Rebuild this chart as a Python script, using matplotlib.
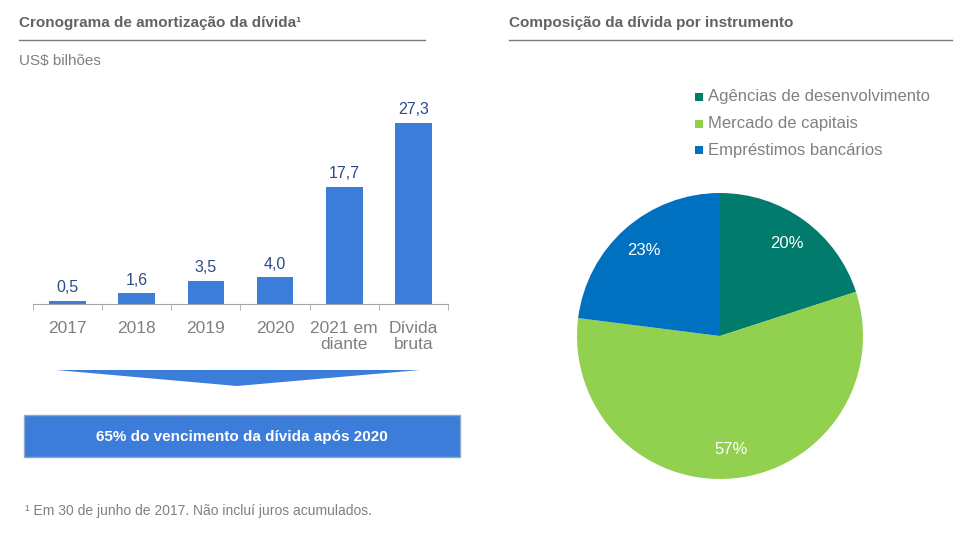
import matplotlib.pyplot as plt
from matplotlib.patches import Polygon, Rectangle

plt.rcParams['font.family'] = ['Liberation Sans', 'DejaVu Sans']

# data
categories = ['2017', '2018', '2019', '2020', '2021 em\ndiante', 'Dívida\nbruta']
values = [0.5, 1.6, 3.5, 4.0, 17.7, 27.3]
value_labels = ['0,5', '1,6', '3,5', '4,0', '17,7', '27,3']

pie_labels = ['Agências de desenvolvimento', 'Mercado de capitais', 'Empréstimos bancários']
pie_values = [20, 57, 23]
pie_colors = ['#007B6C', '#92D050', '#0070C0']

W, H = 973, 536
fig = plt.figure(figsize=(W / 100, H / 100), dpi=100)

# overlay in pixel coords for titles, lines, arrow, box
bg = fig.add_axes([0, 0, 1, 1])
bg.set_xlim(0, W)
bg.set_ylim(H, 0)
bg.axis('off')

title_col = '#626262'
grey = '#808080'

bg.text(19, 23, 'Cronograma de amortização da dívida¹', fontsize=11, fontweight='bold',
        color=title_col, va='center', ha='left')
bg.plot([19, 425], [40, 40], color='#7a7a7a', lw=1)
bg.text(509, 23, 'Composição da dívida por instrumento', fontsize=11, fontweight='bold',
        color=title_col, va='center', ha='left')
bg.plot([509, 952], [40, 40], color='#7a7a7a', lw=1)
bg.text(19, 61, 'US$ bilhões', fontsize=11, color=grey, va='center', ha='left')

# chevron arrow
bg.add_patch(Polygon([[56, 370], [420, 370], [237, 386]], closed=True,
                     facecolor='#3C7DD9', edgecolor='none'))
# highlight box
bg.add_patch(Rectangle((24, 415), 436, 42, facecolor='#3C7DD9', edgecolor='#8EA9C8', lw=1))
bg.text(242, 437, '65% do vencimento da dívida após 2020', fontsize=11, fontweight='bold',
        color='white', ha='center', va='center')

bg.text(25, 511, '¹ Em 30 de junho de 2017. Não incluí juros acumulados.', fontsize=10,
        color=grey, ha='left', va='center')

# bar chart
ax = fig.add_axes([33 / W, (H - 304) / H, (448 - 33) / W, (304 - 90) / H])
x = list(range(len(categories)))
ax.bar(x, values, width=0.53, color='#3C7DD9')
ax.set_xlim(-0.5, len(categories) - 0.5)
ax.set_ylim(0, 214 / 6.63)
for xi, v, lab in zip(x, values, value_labels):
    ax.annotate(lab, (xi, v), xytext=(0, 4), textcoords='offset points', ha='center',
                va='bottom', fontsize=11.5, color='#2B4A8A')
for s in ['top', 'right', 'left']:
    ax.spines[s].set_visible(False)
ax.spines['bottom'].set_color('#A6A6A6')
ax.set_yticks([])
ax.set_xticks(x)
ax.set_xticklabels(categories, fontsize=12.5, color=grey, linespacing=1.1)
ax.tick_params(axis='x', which='major', length=0, pad=12)
ax.set_xticks([i - 0.5 for i in range(len(categories) + 1)], minor=True)
ax.tick_params(axis='x', which='minor', length=4, color='#A6A6A6', direction='out')
ax.patch.set_alpha(0)

# pie chart
r = 143
cx, cy = 720, 336
pax = fig.add_axes([(cx - r) / W, (H - cy - r) / H, 2 * r / W, 2 * r / H])
wedges, texts, autotexts = pax.pie(pie_values, colors=pie_colors, startangle=90,
                                   counterclock=False, autopct='%d%%', pctdistance=0.8,
                                   wedgeprops=dict(linewidth=0), radius=1.0)
for t in autotexts:
    t.set_color('white')
    t.set_fontsize(12)
pax.set_xlim(-1, 1)
pax.set_ylim(-1, 1)
pax.set_aspect('auto')

# legend
for i, (lab, col) in enumerate(zip(pie_labels, pie_colors)):
    yy = 97 + i * 26.5
    bg.add_patch(Rectangle((695, yy - 4), 8, 8, facecolor=col, edgecolor='none'))
    bg.text(708, yy, lab, fontsize=12, color=grey, ha='left', va='center')

fig.savefig('out.png', dpi=100)
